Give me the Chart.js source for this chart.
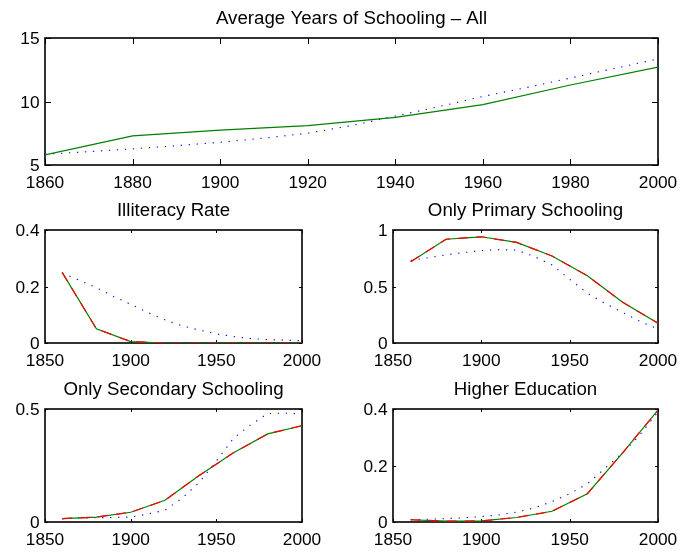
<!DOCTYPE html>
<html>
<head>
<meta charset="utf-8">
<script src="https://cdn.jsdelivr.net/npm/chart.js@4/dist/chart.umd.min.js"></script>
<style>
  html, body { margin: 0; padding: 0; background: #fff; }
  #fig { position: relative; width: 682px; height: 553px; overflow: hidden; }
  #fig canvas { position: absolute; }
</style>
</head>
<body>
<div id="fig">
  <canvas id="cAll" width="682" height="195" style="left:0;top:0"></canvas>
  <canvas id="cIllit" width="341" height="180" style="left:0;top:195px"></canvas>
  <canvas id="cPrimary" width="341" height="180" style="left:341px;top:195px"></canvas>
  <canvas id="cSecondary" width="341" height="178" style="left:0;top:375px"></canvas>
  <canvas id="cHigher" width="341" height="178" style="left:341px;top:375px"></canvas>
</div>
<script>
// ---- data ----
const yearsCoarse = [1860, 1880, 1900, 1920, 1940, 1960, 1980, 2000];
const yearsFine = [1860, 1870, 1880, 1890, 1900, 1910, 1920, 1930, 1940, 1950, 1960, 1970, 1980, 1990, 2000];

// Average years of schooling
const allSolid  = [5.8, 7.3, 7.75, 8.1, 8.75, 9.75, 11.3, 12.7];
const allDotted = [5.85, 6.05, 6.27, 6.52, 6.79, 7.12, 7.5, 8.1, 8.85, 9.6, 10.4, 11.1, 11.85, 12.6, 13.35];

// Illiteracy rate
const illitSolid  = [0.25, 0.05, 0.005, 0, 0, 0, 0, 0];
const illitDashed = [0.25, 0.05, 0.005, 0, 0, 0, 0, 0];
const illitDotted = [0.248, 0.222, 0.196, 0.165, 0.137, 0.108, 0.082, 0.061, 0.046, 0.032, 0.023, 0.016, 0.012, 0.010, 0.008];

// Only primary schooling
const primSolid  = [0.72, 0.918, 0.94, 0.89, 0.77, 0.595, 0.36, 0.176];
const primDashed = [0.72, 0.918, 0.94, 0.89, 0.77, 0.595, 0.36, 0.176];
const primDotted = [0.73, 0.755, 0.78, 0.80, 0.818, 0.826, 0.822, 0.765, 0.69, 0.565, 0.44, 0.35, 0.27, 0.19, 0.125];

// Only secondary schooling
const secSolid  = [0.015, 0.022, 0.043, 0.096, 0.206, 0.306, 0.39, 0.426];
const secDashed = [0.015, 0.022, 0.043, 0.096, 0.206, 0.306, 0.39, 0.426];
const secDotted = [0.015, 0.017, 0.019, 0.020, 0.022, 0.035, 0.052, 0.105, 0.175, 0.27, 0.37, 0.43, 0.48, 0.482, 0.478];

// Higher education
const highSolid  = [0.008, 0.003, 0.004, 0.016, 0.038, 0.10, 0.245, 0.396];
const highDashed = [0.008, 0.003, 0.004, 0.016, 0.038, 0.10, 0.245, 0.396];
const highDotted = [0.008, 0.010, 0.012, 0.015, 0.019, 0.025, 0.035, 0.050, 0.072, 0.10, 0.135, 0.19, 0.245, 0.31, 0.39];

// tick values
const allXTicks = [1860, 1880, 1900, 1920, 1940, 1960, 1980, 2000];
const allYTicks = [5, 10, 15];
const smallXTicks = [1850, 1900, 1950, 2000];
const illitYTicks = [0, 0.2, 0.4];
const primYTicks = [0, 0.5, 1];
const secYTicks = [0, 0.5];
const highYTicks = [0, 0.2, 0.4];

// ---- drawing ----
const FONT = "'Liberation Sans', Arial, Helvetica, sans-serif";
const TICK_SIZE = 17.3;
const TITLE_SIZE = 18.7;

const toPoints = (xs, ys) => xs.map((x, i) => ({ x, y: ys[i] }));

// box around the axes, inward tick marks on all four sides, and the title
const framePlugin = {
  id: 'frame',
  beforeDatasetsDraw(chart, args, opts) {
    const { ctx, chartArea: a, scales } = chart;
    const L = opts.tickLen;
    ctx.save();
    ctx.strokeStyle = '#000';
    ctx.lineWidth = 1;
    ctx.beginPath();
    scales.x.ticks.forEach(t => {
      const px = Math.round(scales.x.getPixelForValue(t.value)) + 0.5;
      ctx.moveTo(px, a.bottom); ctx.lineTo(px, a.bottom - L);
      ctx.moveTo(px, a.top); ctx.lineTo(px, a.top + L);
    });
    scales.y.ticks.forEach(t => {
      const py = Math.round(scales.y.getPixelForValue(t.value)) + 0.5;
      ctx.moveTo(a.left, py); ctx.lineTo(a.left + L, py);
      ctx.moveTo(a.right, py); ctx.lineTo(a.right - L, py);
    });
    ctx.stroke();
    ctx.lineWidth = 1.6;
    ctx.strokeRect(a.left, a.top, a.right - a.left, a.bottom - a.top);
    ctx.fillStyle = '#000';
    ctx.font = TITLE_SIZE + 'px ' + FONT;
    ctx.textAlign = 'center';
    ctx.textBaseline = 'alphabetic';
    ctx.fillText(opts.title, (a.left + a.right) / 2, a.top - 14.5);
    ctx.restore();
  }
};

function lineSet(label, xs, ys, style) {
  const base = { label, data: toPoints(xs, ys), pointRadius: 0, tension: 0, fill: false, borderWidth: 1.2 };
  if (style === 'solid') return Object.assign(base, { borderColor: '#008000' });
  if (style === 'dashed') return Object.assign(base, { borderColor: '#ff0000', borderDash: [10, 8] });
  return Object.assign(base, { borderColor: '#0000ff', borderDash: [1.3, 6.7], borderWidth: 1.1 });
}

function makeChart(id, cfg) {
  const fmt = v => String(v);
  return new Chart(document.getElementById(id), {
    type: 'line',
    data: { datasets: cfg.datasets },
    plugins: [framePlugin],
    options: {
      responsive: false,
      animation: false,
      events: [],
      layout: { padding: { left: 0, right: cfg.padRight, top: cfg.padTop, bottom: 0 } },
      plugins: {
        legend: { display: false },
        tooltip: { enabled: false },
        title: { display: false },
        frame: { title: cfg.title, tickLen: cfg.tickLen }
      },
      scales: {
        x: {
          type: 'linear',
          min: cfg.xMin, max: cfg.xMax,
          grid: { display: false, drawTicks: false },
          border: { display: false },
          afterBuildTicks: s => { s.ticks = cfg.xTicks.map(v => ({ value: v })); },
          // the plot area is fixed by the layout padding; edge labels may overhang
          afterFit: s => { s.height = cfg.xHeight; s.paddingLeft = 0; s.paddingRight = 0; },
          ticks: { autoSkip: false, maxRotation: 0, padding: 7.5, color: '#000',
                   font: { family: FONT, size: TICK_SIZE }, callback: fmt }
        },
        y: {
          type: 'linear',
          min: cfg.yMin, max: cfg.yMax,
          grid: { display: false, drawTicks: false },
          border: { display: false },
          afterBuildTicks: s => { s.ticks = cfg.yTicks.map(v => ({ value: v })); },
          afterFit: s => { s.width = cfg.yWidth; s.paddingTop = 0; s.paddingBottom = 0; },
          ticks: { padding: 5.5, color: '#000', labelOffset: 1.5,
                   font: { family: FONT, size: TICK_SIZE }, callback: fmt }
        }
      }
    }
  });
}

makeChart('cAll', {
  title: 'Average Years of Schooling \u2013 All',
  datasets: [
    lineSet('solid', yearsCoarse, allSolid, 'solid'),
    lineSet('dotted', yearsFine, allDotted, 'dotted')
  ],
  xMin: 1860, xMax: 2000, xTicks: allXTicks,
  yMin: 5, yMax: 15, yTicks: allYTicks,
  yWidth: 45, xHeight: 30, padTop: 38, padRight: 24, tickLen: 6
});

makeChart('cIllit', {
  title: 'Illiteracy Rate',
  datasets: [
    lineSet('dashed', yearsCoarse, illitDashed, 'dashed'),
    lineSet('solid', yearsCoarse, illitSolid, 'solid'),
    lineSet('dotted', yearsFine, illitDotted, 'dotted')
  ],
  xMin: 1850, xMax: 2000, xTicks: smallXTicks,
  yMin: 0, yMax: 0.4, yTicks: illitYTicks,
  yWidth: 45, xHeight: 32, padTop: 35, padRight: 39, tickLen: 3
});

makeChart('cPrimary', {
  title: 'Only Primary Schooling',
  datasets: [
    lineSet('dashed', yearsCoarse, primDashed, 'dashed'),
    lineSet('solid', yearsCoarse, primSolid, 'solid'),
    lineSet('dotted', yearsFine, primDotted, 'dotted')
  ],
  xMin: 1850, xMax: 2000, xTicks: smallXTicks,
  yMin: 0, yMax: 1, yTicks: primYTicks,
  yWidth: 52, xHeight: 32, padTop: 35, padRight: 24, tickLen: 3
});

makeChart('cSecondary', {
  title: 'Only Secondary Schooling',
  datasets: [
    lineSet('dashed', yearsCoarse, secDashed, 'dashed'),
    lineSet('solid', yearsCoarse, secSolid, 'solid'),
    lineSet('dotted', yearsFine, secDotted, 'dotted')
  ],
  xMin: 1850, xMax: 2000, xTicks: smallXTicks,
  yMin: 0, yMax: 0.5, yTicks: secYTicks,
  yWidth: 45, xHeight: 31, padTop: 34, padRight: 39, tickLen: 3
});

makeChart('cHigher', {
  title: 'Higher Education',
  datasets: [
    lineSet('dashed', yearsCoarse, highDashed, 'dashed'),
    lineSet('solid', yearsCoarse, highSolid, 'solid'),
    lineSet('dotted', yearsFine, highDotted, 'dotted')
  ],
  xMin: 1850, xMax: 2000, xTicks: smallXTicks,
  yMin: 0, yMax: 0.4, yTicks: highYTicks,
  yWidth: 52, xHeight: 31, padTop: 34, padRight: 24, tickLen: 3
});
</script>
</body>
</html>
